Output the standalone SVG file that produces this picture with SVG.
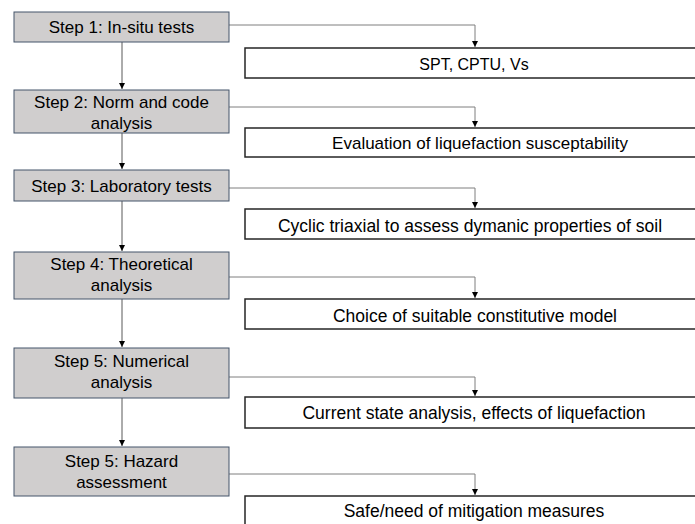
<svg xmlns="http://www.w3.org/2000/svg" width="695" height="524" viewBox="0 0 695 524">
<style>
.step rect{fill:#d0cece;stroke:#44546a;stroke-width:1}
.out rect{fill:#fff;stroke:#262626;stroke-width:1.5}
text{font-family:"Liberation Sans",Arial,sans-serif;fill:#000;text-anchor:middle}
.step text{font-size:17px}
.out text{font-size:17.5px}
.conn path{fill:none;stroke:#7f7f7f;stroke-width:1}
.conn path.v{stroke:#595959}
</style>
<defs>
<marker id="ah" markerUnits="userSpaceOnUse" markerWidth="8" markerHeight="8" refX="6" refY="3.5" orient="auto" viewBox="0 0 8 8">
<path d="M0,0.5 L6,3.5 L0,6.5 Z" fill="#000"/>
</marker>
</defs>
<rect width="695" height="524" fill="#fff"/>
<g id="connectors" class="conn">
<path class="v" d="M122,42 V89" marker-end="url(#ah)"/>
<path class="v" d="M122,133 V169" marker-end="url(#ah)"/>
<path class="v" d="M122,201 V251" marker-end="url(#ah)"/>
<path class="v" d="M122,299 V347" marker-end="url(#ah)"/>
<path class="v" d="M122,398 V446" marker-end="url(#ah)"/>
<path d="M229,25 H475 V47" marker-end="url(#ah)"/>
<path d="M229,107 H475 V127" marker-end="url(#ah)"/>
<path d="M229,188 H475 V208" marker-end="url(#ah)"/>
<path d="M229,277 H475 V298" marker-end="url(#ah)"/>
<path d="M229,377 H475 V396" marker-end="url(#ah)"/>
<path d="M229,474 H475 V495" marker-end="url(#ah)"/>
</g>
<g id="step1" class="step"><rect x="14" y="12" width="215" height="30"/><text x="121.5" y="33">Step 1: In-situ tests</text></g>
<g id="step2" class="step"><rect x="14" y="90" width="215" height="43"/><text x="121.5" y="108">Step 2: Norm and code</text><text x="121.5" y="129">analysis</text></g>
<g id="step3" class="step"><rect x="14" y="170" width="215" height="31"/><text x="121.5" y="191.5">Step 3: Laboratory tests</text></g>
<g id="step4" class="step"><rect x="14" y="252" width="215" height="47"/><text x="121.5" y="270">Step 4: Theoretical</text><text x="121.5" y="291">analysis</text></g>
<g id="step5a" class="step"><rect x="14" y="348" width="215" height="50"/><text x="121.5" y="367">Step 5: Numerical</text><text x="121.5" y="388">analysis</text></g>
<g id="step5b" class="step"><rect x="14" y="447" width="215" height="49"/><text x="121.5" y="467">Step 5: Hazard</text><text x="121.5" y="488">assessment</text></g>
<g id="out1" class="out"><rect x="245" y="48" width="460" height="30"/><text x="474" y="70" style="font-size:16px">SPT, CPTU, Vs</text></g>
<g id="out2" class="out"><rect x="245" y="128" width="460" height="29"/><text x="480" y="149" style="font-size:17px">Evaluation of liquefaction susceptability</text></g>
<g id="out3" class="out"><rect x="245" y="209" width="460" height="30"/><text x="470" y="231.5">Cyclic triaxial to assess dymanic properties of soil</text></g>
<g id="out4" class="out"><rect x="245" y="299" width="460" height="30"/><text x="475" y="321.5">Choice of suitable constitutive model</text></g>
<g id="out5" class="out"><rect x="245" y="397" width="460" height="31"/><text x="474" y="419">Current state analysis, effects of liquefaction</text></g>
<g id="out6" class="out"><rect x="245" y="496" width="460" height="40"/><text x="474" y="516.5">Safe/need of mitigation measures</text></g>
</svg>
